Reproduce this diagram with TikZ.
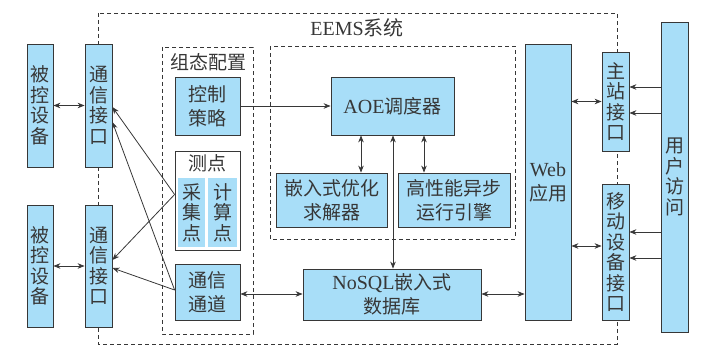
\documentclass[tikz,border=0pt]{standalone}
\usepackage{fontspec}
\setmainfont{Liberation Serif}
\newfontfamily\cjk{Noto Sans CJK SC}
\usepackage{xcolor}
\usetikzlibrary{arrows.meta}
\definecolor{boxblue}{RGB}{168,222,248}
\definecolor{inkgray}{RGB}{55,55,55}

\begin{document}
\begin{tikzpicture}[
    x=1pt, y=-1pt,
    box/.style={rectangle, draw=inkgray, fill=boxblue, text=inkgray, inner sep=0pt, align=center, line width=0.8pt},
    vtext/.style={font=\cjk\fontsize{19}{20.5}\selectfont},
    htext/.style={font=\cjk\fontsize{19}{24}\selectfont},
    group/.style={draw=inkgray, line width=0.8pt, dash pattern=on 4pt off 3pt},
    arrow/.style={-{Stealth[length=7pt,width=5.5pt]}, draw=inkgray, line width=0.8pt},
    dbl/.style={{Stealth[length=7pt,width=5.5pt]}-{Stealth[length=7pt,width=5.5pt]}, draw=inkgray, line width=0.8pt}
]
\useasboundingbox (0,0) rectangle (720,355);

% dashed groups
\draw[group] (98,13) rectangle (617,344);
\draw[group] (162,47) rectangle (253,334);
\draw[group] (270,46) rectangle (515,239);
\node[text=inkgray, font=\fontsize{20}{24}\selectfont] (eems) at (357,28) {EEMS{\cjk 系统}};
\node[text=inkgray, htext] (cfg) at (208,62) {组态配置};

% devices and interfaces
\node[box, vtext, minimum width=26pt, minimum height=123pt] (dev1) at (40,105.5) {被\\控\\设\\备};
\node[box, vtext, minimum width=27pt, minimum height=123pt] (com1) at (98.5,105.5) {通\\信\\接\\口};
\node[box, vtext, minimum width=26pt, minimum height=122pt] (dev2) at (40,266) {被\\控\\设\\备};
\node[box, vtext, minimum width=27pt, minimum height=122pt] (com2) at (98.5,266) {通\\信\\接\\口};

% configuration
\node[box, htext, minimum width=65pt, minimum height=58pt] (ctrl) at (207.5,106) {控制\\策略};
\node[box, fill=white, minimum width=65pt, minimum height=99pt] (meas) at (207.5,200.5) {};
\node[text=inkgray, htext] (meastitle) at (207.5,163) {测点};
\node[box, draw=none, vtext, minimum width=27pt, minimum height=69pt] (acq) at (191.5,212.5) {采\\集\\点};
\node[box, draw=none, vtext, minimum width=29pt, minimum height=69pt] (calc) at (222.5,212.5) {计\\算\\点};
\node[box, htext, minimum width=65pt, minimum height=56pt] (chan) at (207.5,292) {通信\\通道};

% scheduler
\node[box, htext, minimum width=123pt, minimum height=58pt] (aoe) at (392.5,106) {{\rmfamily\fontsize{20}{24}\selectfont AOE}调度器};
\node[box, htext, minimum width=111pt, minimum height=54pt] (solver) at (331.5,200) {嵌入式优化\\求解器};
\node[box, htext, minimum width=112pt, minimum height=54pt] (engine) at (454,200) {高性能异步\\运行引擎};
\node[box, htext, minimum width=178pt, minimum height=51pt] (db) at (392,294.5) {{\rmfamily\fontsize{20}{24}\selectfont NoSQL}嵌入式\\数据库};

% web side
\node[box, htext, minimum width=46pt, minimum height=276pt] (web) at (548,182) {{\rmfamily\fontsize{20}{24}\selectfont Web}\\应用};
\node[box, vtext, minimum width=27pt, minimum height=99pt] (master) at (615.5,101.5) {主\\站\\接\\口};
\node[box, vtext, minimum width=27pt, minimum height=136pt] (mobile) at (615.5,252) {移\\动\\设\\备\\接\\口};
\node[box, vtext, minimum width=27pt, minimum height=310pt] (user) at (674.5,177) {用\\户\\访\\问};

% levels and columns for connectors
\coordinate (xs) at (361,0);
\coordinate (xe) at (424,0);
\coordinate (xd) at (393,0);
\coordinate (yc) at (0,294);
\coordinate (ym) at (0,246);
\coordinate (ya) at (0,87);
\coordinate (yb) at (0,113);
\coordinate (yp) at (0,232);
\coordinate (yq) at (0,258);

\draw[dbl] (dev1.east) -- (com1.west);
\draw[dbl] (dev2.east) -- (com2.west);
\draw[arrow] ([yshift=6pt]meas.west) -- ([yshift=-1.5pt]com1.east);
\draw[arrow] ([yshift=6pt]meas.west) -- ([yshift=6pt]com2.east);
\draw[arrow] ([yshift=2pt]chan.west) -- ([yshift=-16.5pt]com1.east);
\draw[arrow] ([yshift=2pt]chan.west) -- ([yshift=-2pt]com2.east);
\draw[arrow] (ctrl.east) -- (aoe.west);
\draw[dbl] (aoe.south -| xs) -- (solver.north -| xs);
\draw[dbl] (aoe.south -| xe) -- (engine.north -| xe);
\draw[dbl] (aoe.south -| xd) -- (db.north -| xd);
\draw[dbl] (chan.east |- yc) -- (db.west |- yc);
\draw[dbl] (db.east |- yc) -- (web.west |- yc);
\draw[dbl] (web.east |- master.west) -- (master.west);
\draw[dbl] (web.east |- ym) -- (mobile.west |- ym);
\draw[arrow] (user.west |- ya) -- (master.east |- ya);
\draw[arrow] (user.west |- yb) -- (master.east |- yb);
\draw[arrow] (user.west |- yp) -- (mobile.east |- yp);
\draw[arrow] (user.west |- yq) -- (mobile.east |- yq);

\end{tikzpicture}
\end{document}
